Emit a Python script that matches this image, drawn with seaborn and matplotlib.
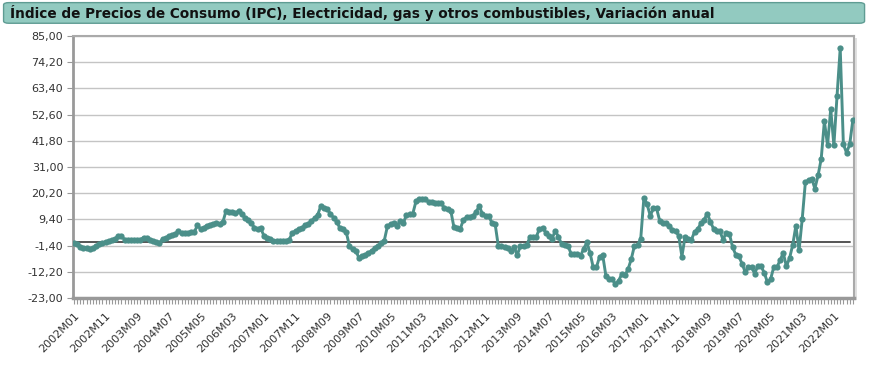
import numpy as np
import pandas as pd
import matplotlib.pyplot as plt
import seaborn as sns
from matplotlib.patches import FancyBboxPatch

# variacion anual (%) 2002M01 .. 2022M07
valores = [
    -0.3, -0.8, -1.8, -2.3, -2.5, -2.7, -2.4, -1.4, -0.9, -0.3, 0.2, 0.5,
    0.8, 1.5, 2.5, 2.4, 1.1, 1.1, 1.0, 1.1, 0.9, 1.1, 1.9, 1.7,
    1.1, 0.6, 0.0, -0.3, 1.4, 1.8, 2.5, 3.0, 3.5, 4.5, 3.8, 3.8,
    4.0, 4.1, 4.3, 6.9, 5.5, 6.0, 6.8, 7.3, 7.6, 8.0, 7.7, 8.2,
    12.8, 12.5, 12.6, 12.1, 12.8, 11.7, 10.0, 9.0, 8.0, 5.9, 5.5, 5.7,
    2.6, 1.8, 1.5, 0.4, 0.3, 0.4, 0.5, 0.4, 1.1, 4.0, 4.6, 5.4,
    6.0, 6.9, 7.5, 8.7, 10.0, 11.4, 15.1, 14.2, 13.5, 11.8, 10.0, 8.5,
    5.7, 5.4, 4.1, -1.6, -3.0, -3.5, -6.5, -5.5, -5.2, -4.4, -3.5, -2.3,
    -1.5, -0.4, 0.7, 6.6, 7.5, 7.8, 6.5, 8.9, 7.8, 11.3, 11.5, 11.7,
    16.8, 17.9, 18.0, 17.9, 16.5, 16.4, 16.2, 16.2, 16.0, 14.1, 13.5, 13.0,
    6.2, 5.8, 5.5, 9.3, 10.3, 10.4, 10.7, 12.6, 14.8, 11.7, 10.9, 10.7,
    8.0, 7.6, -1.4, -1.7, -2.1, -2.5, -3.7, -2.1, -5.2, -1.6, -1.4, -1.2,
    2.1, 2.0, 2.1, 5.6, 5.8, 4.0, 2.6, 1.5, 4.7, 2.3, -0.8, -1.2,
    -1.5, -4.7, -4.7, -4.8, -5.6, -2.6, -0.1, -4.5, -10.4, -10.4, -5.9, -5.4,
    -13.9, -15.0, -15.2, -17.3, -15.9, -13.2, -13.6, -11.1, -7.0, -1.5, -1.2, 1.5,
    18.4, 15.7, 10.9, 13.9, 13.9, 8.8, 7.8, 7.8, 6.5, 5.1, 4.7, 2.6,
    -5.9, 2.3, 1.5, 1.0, 4.3, 5.4, 7.8, 9.2, 11.8, 8.5, 5.5, 4.8,
    4.6, 1.0, 3.9, 3.5, -2.0, -5.1, -5.8, -8.9, -12.3, -10.3, -10.3, -13.0,
    -9.6, -9.9, -12.6, -16.4, -15.3, -10.3, -10.3, -7.5, -4.4, -9.9, -6.6, -1.1,
    6.8, -3.4, 9.6, 24.8, 25.6, 26.2, 22.1, 27.5, 34.4, 49.9, 39.9, 54.9,
    39.9, 60.4, 79.9, 40.3, 36.9, 40.3, 50.5,
]
periodos = [f"{a}M{m:02d}" for a in range(2002, 2023) for m in range(1, 13)][:len(valores)]
y_ticks = [-23.0, -12.2, -1.4, 9.4, 20.2, 31.0, 41.8, 52.6, 63.4, 74.2, 85.0]
titulo = "Índice de Precios de Consumo (IPC), Electricidad, gas y otros combustibles, Variación anual"

df = pd.DataFrame({"periodo": periodos, "valor": valores})
df["pos"] = range(len(df))

sns.set_style("white")
plt.rcParams["font.family"] = ["DejaVu Sans"]

fig = plt.figure(figsize=(8.95, 3.75), dpi=100)
ax = fig.add_axes([0.0816, 0.2053, 0.8724, 0.6987])
ax.set_zorder(2)

# banner del titulo
banner = FancyBboxPatch((0.004, 0.938), 0.962, 0.055, boxstyle="round,pad=0,rounding_size=0.006",
                        transform=fig.transFigure, facecolor="#92cac0", edgecolor="#5f9c93",
                        linewidth=1, zorder=0)
fig.patches.append(banner)
fig.text(0.011, 0.965, titulo, fontsize=9.8, fontweight="bold", va="center", ha="left",
         color="#111", zorder=3)

# sombra del area de grafico
sombra = plt.Rectangle((0.0816 + 0.003, 0.2053 - 0.005), 0.8724, 0.6987, transform=fig.transFigure,
                       facecolor="#e0e0e0", edgecolor="none", zorder=1)
fig.patches.append(sombra)

for t in y_ticks:
    ax.axhline(t, color="#c4c4c4", lw=1, zorder=1)
ax.axhline(0, xmin=0, xmax=0.995, color="#555555", lw=1.4, zorder=2)

sns.lineplot(data=df, x="pos", y="valor", ax=ax, color="#4b8f89", lw=2.1,
             marker="o", markersize=4.5, markeredgewidth=0, zorder=3)

ax.set_xlim(-0.3, len(valores) - 0.7)
ax.set_ylim(-23, 85)
ax.set_yticks(y_ticks)
ax.set_yticklabels([f"{t:.2f}".replace(".", ",") for t in y_ticks], fontsize=8, color="#333")
xt = list(range(0, len(valores), 10))
ax.set_xticks(xt)
ax.set_xticklabels([periodos[i] for i in xt], rotation=45, ha="right", rotation_mode="anchor",
                   fontsize=8, color="#333")
ax.set_xticks(range(len(valores)), minor=True)
ax.tick_params(axis="x", which="major", bottom=True, direction="out", length=4, width=0.8,
               color="#999999", pad=5)
ax.tick_params(axis="x", which="minor", bottom=True, direction="out", length=4, width=0.8,
               color="#999999")
ax.tick_params(axis="y", left=True, direction="out", length=4, width=0.8, color="#999999", pad=3)
ax.set_xlabel("")
ax.set_ylabel("")
ax.set_facecolor("white")
for s in ax.spines.values():
    s.set_color("#aaaaaa")
    s.set_linewidth(1.5)
ax.spines["left"].set_color("#999999")
ax.spines["bottom"].set_color("#999999")
ax.spines["left"].set_linewidth(2)
ax.spines["bottom"].set_linewidth(2.5)

plt.savefig("out.png", dpi=100)
